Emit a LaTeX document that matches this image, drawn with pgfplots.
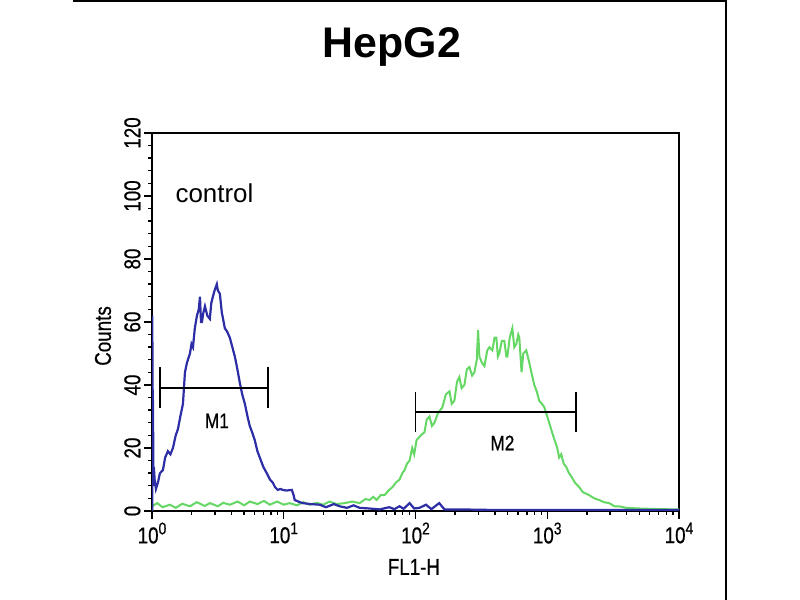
\documentclass[border=0pt]{standalone}
\usepackage{fontspec}
\setmainfont{Liberation Sans}
\newfontfamily\narrowfont{Liberation Sans}[FakeStretch=0.82,FakeBold=0.6]
\usepackage{pgfplots}
\usepackage{pgfplotstable}
\pgfplotsset{compat=1.18}
\definecolor{flowblue}{RGB}{45,45,165}
\definecolor{flowgreen}{RGB}{100,215,100}
\newcommand{\tl}{\narrowfont\fontsize{23}{25}\selectfont}
\newcommand{\ex}[1]{10\raisebox{9bp}{\fontsize{17}{17}\selectfont #1}}

\pgfplotstableread{
lx c
0.002 0
0.002 62
0.006 30
0.008 35
0.010 8
0.014 14
0.020 10
0.030 7
0.045 9
0.060 12
0.083 13
0.100 17
0.121 19
0.140 18
0.159 20
0.180 24
0.197 26
0.215 30
0.235 34
0.250 44
0.265 47
0.280 49
0.288 50
0.300 53
0.311 52
0.325 58
0.341 62
0.355 64
0.364 68
0.372 60
0.379 60
0.390 63
0.402 65
0.420 62
0.439 61
0.450 66
0.462 68
0.475 70
0.492 72
0.500 70
0.515 69
0.530 63
0.553 58
0.570 57
0.591 55
0.610 52
0.629 49
0.648 45
0.667 40.6
0.685 37
0.705 34
0.725 30
0.742 27
0.760 25
0.780 22.5
0.800 19
0.818 17
0.845 14
0.871 12
0.895 10
0.917 9
0.935 7.5
0.955 6.7
0.975 7
0.992 6.7
1.020 6.5
1.061 6.7
1.075 5
1.083 3.5
1.110 3
1.144 2.5
1.200 2.2
1.273 2
1.320 1.2
1.380 2.2
1.424 1.5
1.480 1
1.530 1.8
1.576 1
1.650 0.8
1.727 0.5
1.800 1.2
1.840 0.6
1.879 1.5
1.910 0.7
1.955 2.5
1.990 0.8
2.030 1
2.080 2
2.120 0.6
2.180 2.5
2.220 0.5
2.330 0.5
2.640 0.3
3.390 0.3
3.800 0.3
4.000 0.3
}\bluedata

\pgfplotstableread{
lx c
0.000 1.5
0.040 2.5
0.080 1.2
0.136 2
0.180 1
0.230 2.3
0.288 1.5
0.340 2.8
0.400 1.6
0.439 2.5
0.500 1.5
0.540 2.6
0.591 2
0.650 3
0.700 1.8
0.742 3
0.800 2.2
0.850 3.2
0.894 2
0.950 3
1.000 2
1.045 2.5
1.100 1.8
1.150 2.8
1.197 2
1.250 2.6
1.300 2
1.348 3
1.400 2.2
1.462 2.5
1.520 3
1.576 2.5
1.620 3.8
1.652 3.5
1.680 4.5
1.705 3.5
1.735 5
1.765 5
1.795 6.5
1.826 7.6
1.850 9
1.879 10
1.900 12
1.917 13
1.935 15
1.955 16
1.975 20
1.990 18
2.008 22.5
2.040 24
2.068 25
2.085 29
2.106 30
2.125 27
2.144 28
2.170 31
2.205 33
2.230 37
2.258 38
2.275 34
2.295 35
2.315 41
2.333 42.5
2.350 39
2.371 40
2.390 45
2.409 45.7
2.430 43
2.447 44
2.465 48
2.475 57.5
2.485 49
2.505 47
2.523 46
2.545 51
2.561 52
2.583 51
2.600 55
2.614 55
2.625 49
2.636 50
2.655 54
2.674 54
2.690 49
2.697 49
2.715 55
2.735 58
2.750 52
2.765 53
2.780 56
2.788 55
2.805 44
2.818 50
2.841 51
2.864 47
2.885 43
2.902 40
2.920 38
2.939 35
2.960 34
2.977 33
3.000 30
3.015 28
3.038 24.8
3.060 22
3.076 20
3.090 17
3.106 18
3.125 15
3.144 14
3.165 12
3.182 11
3.210 9
3.242 7.6
3.270 6
3.295 5.5
3.320 5
3.341 4.4
3.370 3.8
3.394 3.5
3.430 2.8
3.470 2.5
3.510 1.5
3.545 1.5
3.600 1
3.697 0.8
3.850 0.6
4.000 0.5
}\greendata

\begin{document}
\begin{tikzpicture}
\path[use as bounding box] (0,0) rectangle (800bp,600bp);
\draw[line width=2bp] (73bp,599bp) -- (726bp,599bp) -- (726bp,0bp);
\node[anchor=base, font=\fontsize{43}{46}\selectfont\bfseries] at (392bp,542bp) {HepG2};
\begin{semilogxaxis}[
  at={(152bp,89bp)}, anchor=south west,
  width=527bp, height=378bp, scale only axis,
  xmin=1, xmax=10000, ymin=0, ymax=120,
  /pgf/number format/assume math mode=true,
  axis line style={line width=1.6bp, black},
  tick pos=left, tick align=outside,
  major tick length=8bp, minor tick length=4bp,
  every tick/.style={black, line width=1.4bp},
  ytick={0,20,40,60,80,100,120}, minor y tick num=4,
  xtick={1,10,100,1000,10000},
  xticklabels={\ex{0},\ex{1},\ex{2},\ex{3},\ex{4}},
  minor xtick={2,3,4,5,6,7,8,9,20,30,40,50,60,70,80,90,200,300,400,500,600,700,800,900,2000,3000,4000,5000,6000,7000,8000,9000},
  yticklabel style={rotate=90, anchor=south, font=\tl},
  xticklabel style={font=\tl, anchor=north},
  ylabel={Counts},
  ylabel style={at={(rel axis cs:-0.093,0.463)}, anchor=center, font=\tl},
  xlabel={FL1-H},
  xlabel style={at={(rel axis cs:0.497,-0.148)}, anchor=center, font=\tl},
  clip=true,
]
\addplot[flowgreen, line width=2bp] table[x expr={10^(\thisrow{lx})}, y=c] {\greendata};
\addplot[flowblue, line width=2.2bp] table[x expr={10^(\thisrow{lx})}, y=c] {\bluedata};
% M1 marker
\addplot[black, line width=1.8bp] coordinates {(1.15,39) (7.57,39)};
\addplot[black, line width=1.8bp] coordinates {(1.15,32.7) (1.15,45.7)};
\addplot[black, line width=1.8bp] coordinates {(7.57,32.7) (7.57,45.7)};
% M2 marker
\addplot[black, line width=1.8bp] coordinates {(100,31.4) (1660,31.4)};
\addplot[black, line width=1.8bp] coordinates {(100,25.1) (100,37.8)};
\addplot[black, line width=1.8bp] coordinates {(1660,25.1) (1660,37.8)};
\node[font=\narrowfont\fontsize{21}{22}\selectfont] at (axis cs:3.11,28.6) {M1};
\node[font=\narrowfont\fontsize{21}{22}\selectfont] at (axis cs:457,21.6) {M2};
\node[anchor=base west, font=\fontsize{26}{28}\selectfont] at (axis cs:1.42,97.8) {control};
\end{semilogxaxis}
\end{tikzpicture}
\end{document}
